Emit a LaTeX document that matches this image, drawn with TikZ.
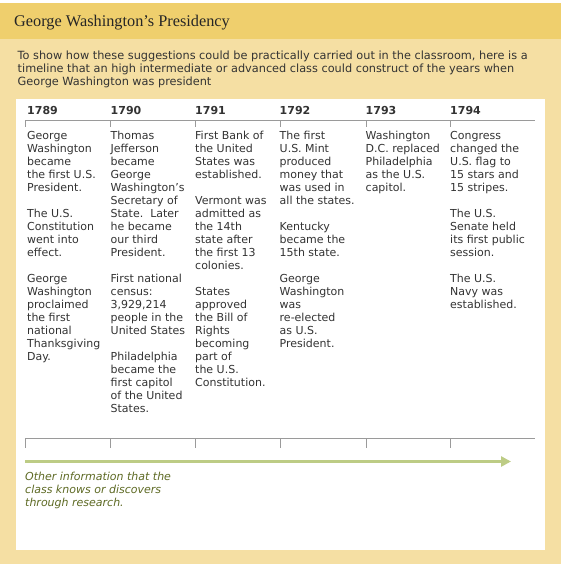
\documentclass[tikz,border=0pt]{standalone}
\usepackage{fontspec}
\setmainfont{DejaVu Sans}
\newfontfamily\titlefont{Liberation Serif}
\usetikzlibrary{arrows.meta}

\definecolor{barGold}{HTML}{EFCF6D}
\definecolor{creamBg}{HTML}{F5DFA3}
\definecolor{bodyGray}{HTML}{333333}
\definecolor{ruleGray}{HTML}{9A9A9A}
\definecolor{arrowGreen}{HTML}{BDCC85}
\definecolor{noteOlive}{HTML}{5E6A24}

\begin{document}
\begin{tikzpicture}[x=1pt, y=-1pt,
  titletext/.style={anchor=base west, inner sep=0pt, text=black!85,
                    font=\titlefont\fontsize{16.3}{18}\selectfont},
  introtext/.style={anchor=north west, inner sep=0pt, align=left, text=bodyGray,
                    font=\fontsize{11.3}{13}\selectfont, execute at begin node=\strut},
  yearnode/.style={anchor=base west, inner sep=0pt, text=bodyGray,
                   font=\fontsize{11}{13}\selectfont\bfseries},
  eventcol/.style={anchor=north west, inner sep=0pt, align=left, text=bodyGray,
                   font=\fontsize{11}{13}\selectfont, execute at begin node=\strut},
  notetext/.style={anchor=north west, inner sep=0pt, align=left, text=noteOlive,
                   font=\fontsize{11}{13}\selectfont\itshape, execute at begin node=\strut},
  rule/.style={draw=ruleGray, line width=1pt},
  growarrow/.style={draw=arrowGreen, line width=3pt,
                    -{Triangle[length=10pt, width=10pt]}},
]
  \useasboundingbox (0,0) rectangle (561,576);

  % Background
  \fill[creamBg] (0,39) rectangle (561,564);
  \fill[barGold] (0,3) rectangle (561,39);
  \fill[white] (16,99) rectangle (545,550);

  % Title and intro
  \node[titletext] (title) at (14,26) {George Washington’s Presidency};
  \node[introtext] (intro) at (17.5,51) {To show how these suggestions could be practically carried out in the classroom, here is a\\
    timeline that an high intermediate or advanced class could construct of the years when\\
    George Washington was president};

  % Years
  \foreach \yr/\xx in {1789/27, 1790/110.5, 1791/195, 1792/279.5, 1793/365.5, 1794/450}
    \node[yearnode] (y\yr) at (\xx,114) {\yr};

  % Top timeline
  \coordinate (topL) at (25,120);
  \coordinate (topR) at (535,120);
  \draw[rule] (topL) -- (topR);
  \foreach \xx in {25.5, 110.5, 195.5, 280.5, 366, 450.5}
    \draw[rule] (\xx,120) -- ++(0,7);

  % Events
  \node[eventcol] (ev1789) at (27,131) {George\\ Washington\\ became\\ the first U.S.\\ President.\\[13pt]
    The U.S.\\ Constitution\\ went into\\ effect.\\[13pt]
    George\\ Washington\\ proclaimed\\ the first\\ national\\ Thanksgiving\\ Day.};
  \node[eventcol] (ev1790) at (110.5,131) {Thomas\\ Jefferson\\ became\\ George\\ Washington’s\\ Secretary of\\ State.\ \ Later\\ he became\\ our third\\ President.\\[13pt]
    First national\\ census:\\ 3,929,214\\ people in the\\ United States\\[13pt]
    Philadelphia\\ became the\\ first capitol\\ of the United\\ States.};
  \node[eventcol] (ev1791) at (195,131) {First Bank of\\ the United\\ States was\\ established.\\[13pt]
    Vermont was\\ admitted as\\ the 14th\\ state after\\ the first 13\\ colonies.\\[13pt]
    States\\ approved\\ the Bill of\\ Rights\\ becoming\\ part of\\ the U.S.\\ Constitution.};
  \node[eventcol] (ev1792) at (279.5,131) {The first\\ U.S. Mint\\ produced\\ money that\\ was used in\\ all the states.\\[13pt]
    Kentucky\\ became the\\ 15th state.\\[13pt]
    George\\ Washington\\ was\\ re-elected\\ as U.S.\\ President.};
  \node[eventcol] (ev1793) at (365.5,131) {Washington\\ D.C. replaced\\ Philadelphia\\ as the U.S.\\ capitol.};
  \node[eventcol] (ev1794) at (450,131) {Congress\\ changed the\\ U.S. flag to\\ 15 stars and\\ 15 stripes.\\[13pt]
    The U.S.\\ Senate held\\ its first public\\ session.\\[13pt]
    The U.S.\\ Navy was\\ established.};

  % Bottom timeline
  \coordinate (botL) at (25,438);
  \coordinate (botR) at (535,438);
  \draw[rule] (botL) -- (botR);
  \foreach \xx in {25.5, 110.5, 195.5, 280.5, 366, 450.5}
    \draw[rule] (\xx,438) -- ++(0,9.5);

  % Arrow and note
  \coordinate (arrowstart) at (25,461.5);
  \coordinate (arrowend) at (511,461.5);
  \draw[growarrow] (arrowstart) -- (arrowend);
  \node[notetext] (note) at (25,472) {Other information that the\\ class knows or discovers\\ through research.};
\end{tikzpicture}
\end{document}
